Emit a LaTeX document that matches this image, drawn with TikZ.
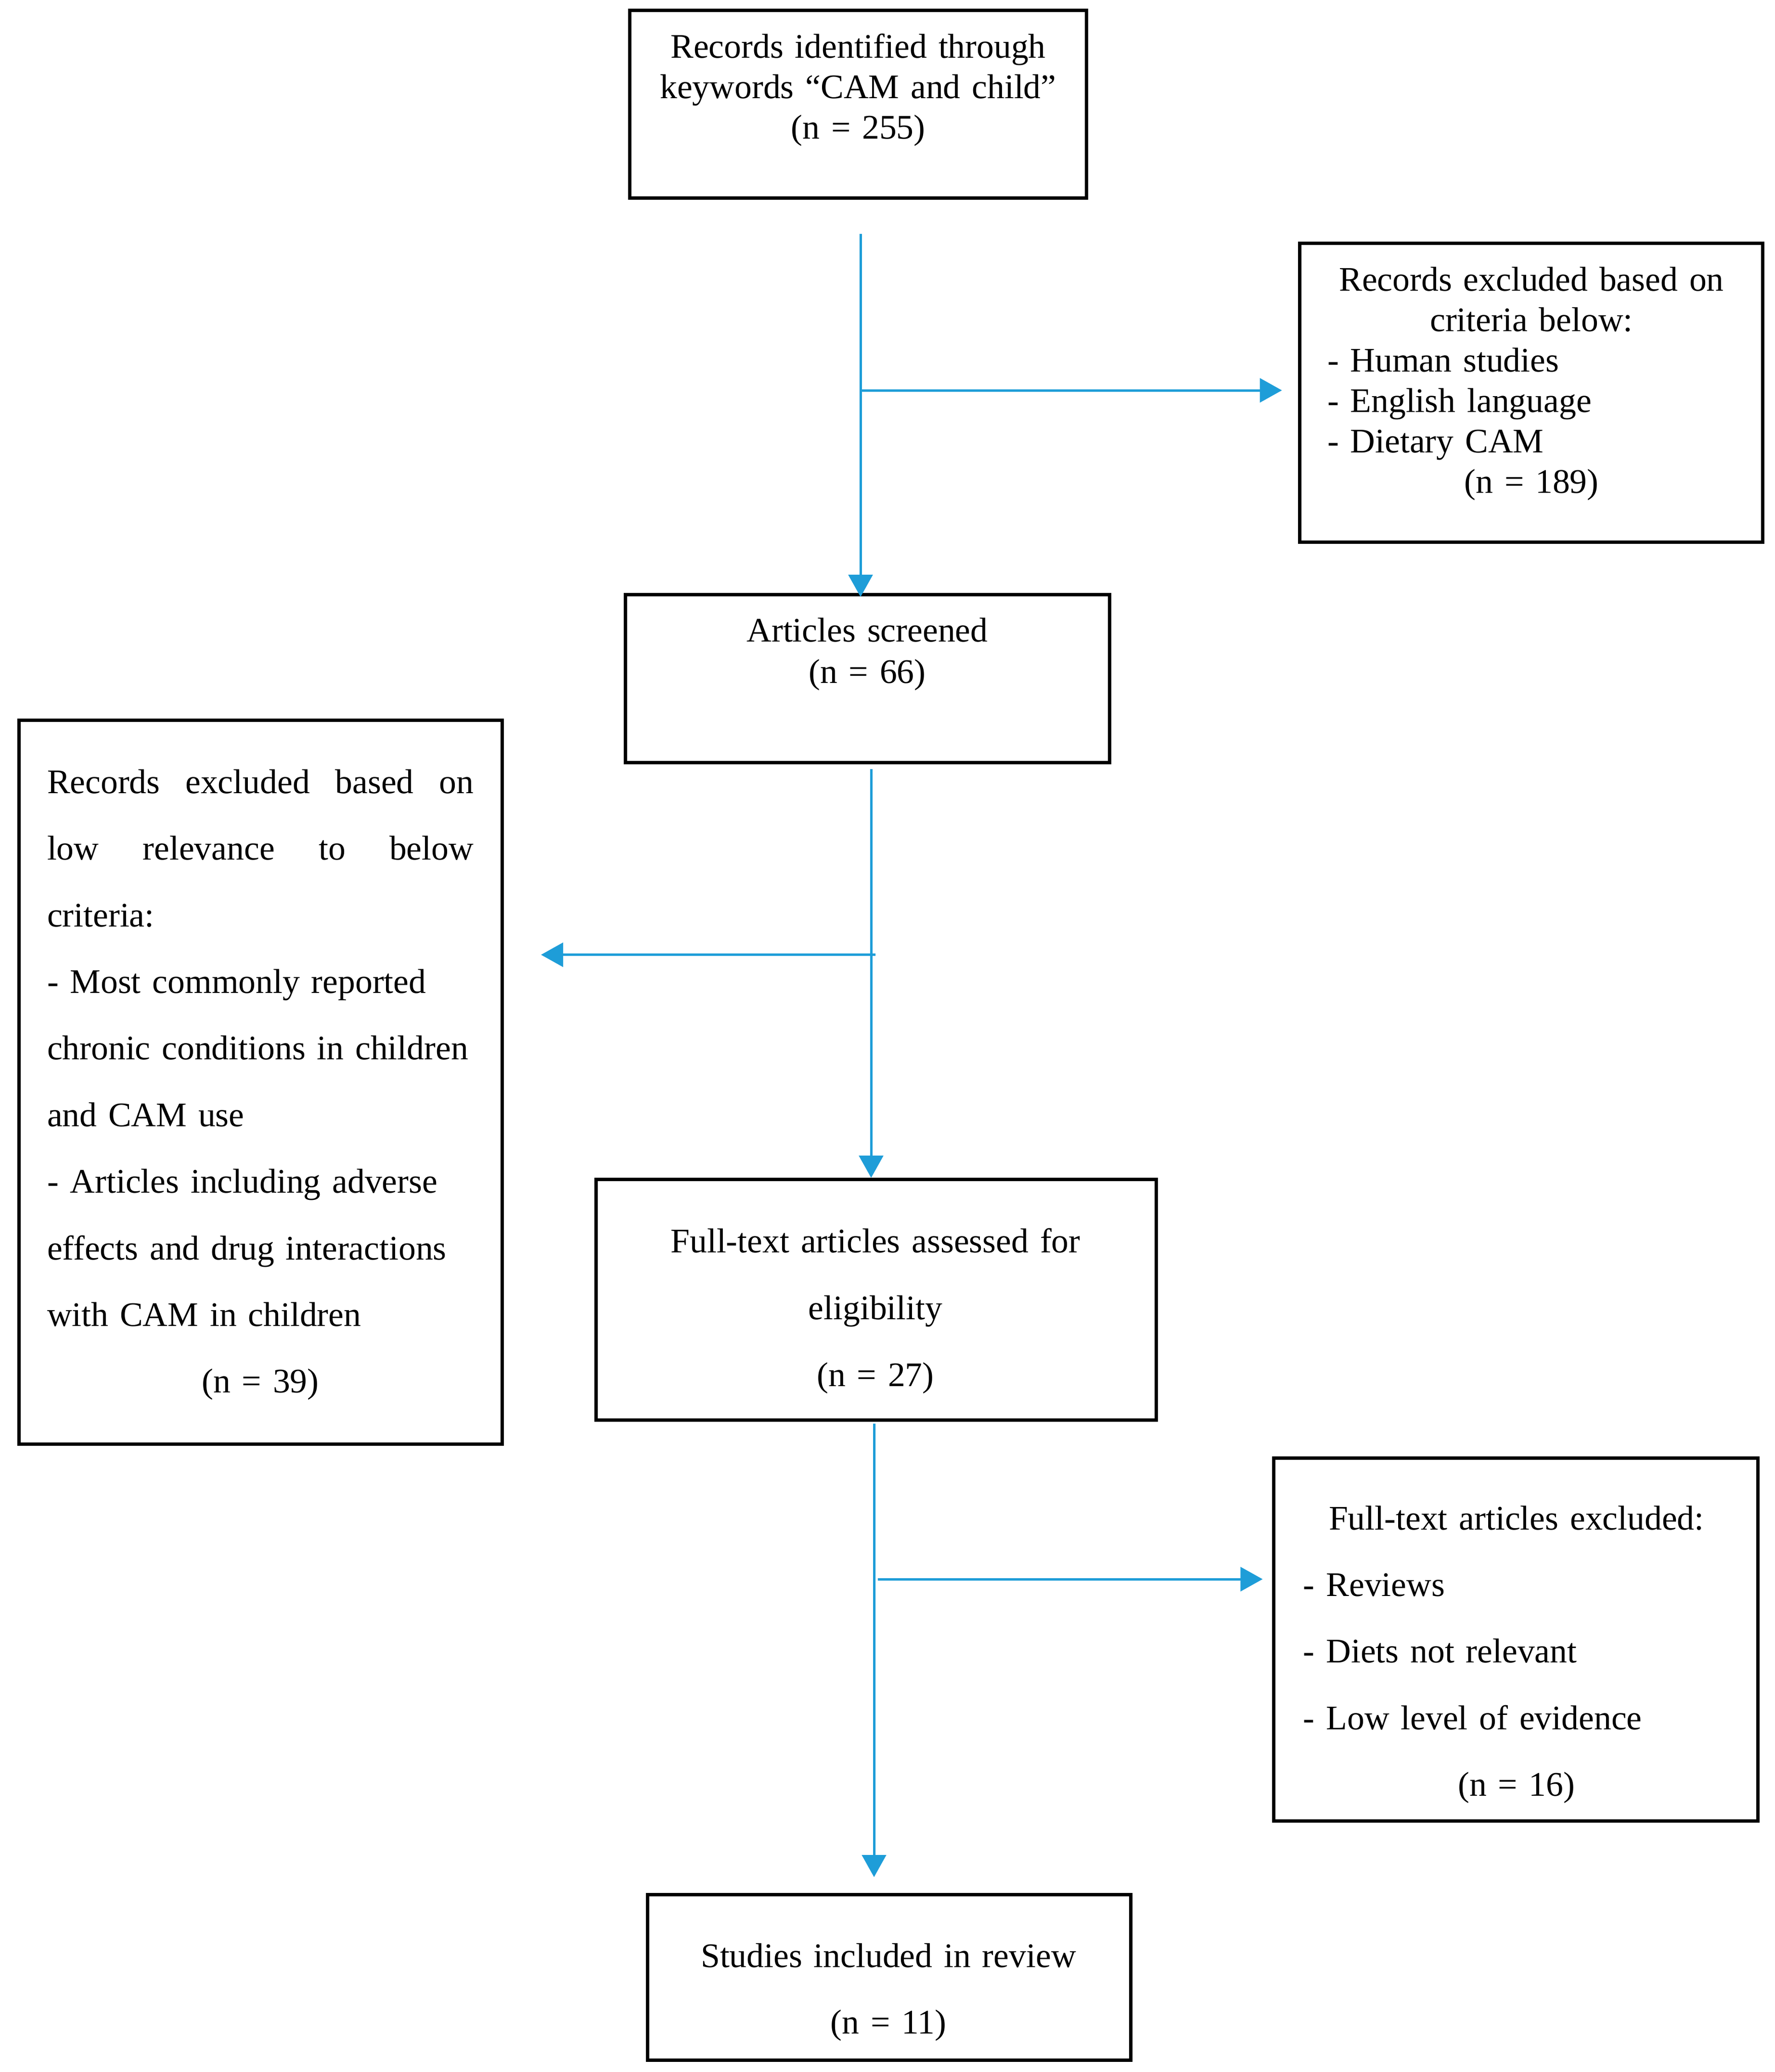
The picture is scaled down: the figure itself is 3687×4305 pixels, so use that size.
\documentclass[tikz,border=0pt]{standalone}
\usepackage{fontspec}
\setmainfont{Liberation Serif}
\usetikzlibrary{arrows.meta}
\definecolor{arrblue}{RGB}{30,157,216}
\newlength\wa \setlength\wa{212pt}
\newlength\wb \setlength\wb{221.5pt}
\newcommand\fsingle{\fontsize{17.9}{21}\selectfont}
\newcommand\fdouble{\fontsize{17.9}{34.6}\selectfont}
\tikzset{
  box/.style={draw=black, line width=1.75pt, inner sep=0pt, rectangle},
  txt/.style={inner sep=0pt, anchor=base},
  arr/.style={draw=arrblue, line width=1.25pt, -{Triangle[length=11.5pt,width=12.5pt]}},
}
\begin{document}
\begin{tikzpicture}[x=0.25pt,y=-0.25pt]
\useasboundingbox (0,0) rectangle (3687,4305);
% boxes
\node[box, minimum width=237.25pt, minimum height=97.5pt] (b1) at (1783,216.6) {};
\node[box, minimum width=240.5pt, minimum height=155.25pt] (r1) at (3181,816.2) {};
\node[box, minimum width=251.5pt, minimum height=87.25pt] (b2) at (1802,1410.2) {};
\node[box, minimum width=251pt, minimum height=376pt] (lb) at (541,2248.3) {};
\node[box, minimum width=291pt, minimum height=125pt] (b3) at (1820,2700.6) {};
\node[box, minimum width=251.5pt, minimum height=188.5pt] (r2) at (3149.5,3406.4) {};
\node[box, minimum width=251pt, minimum height=86pt] (b4) at (1847,4108.3) {};
% texts
\node[txt, text width=225pt, align=center, font=\fsingle] (t1) at (1783,120.8)
  {Records identified through\\ keywords “CAM and child”\\ (n = 255)};
\node[txt, text width=\wa, align=left, font=\fsingle] (tr1) at (3182,604)
  {\makebox[\wa]{Records excluded based on}\\
   \makebox[\wa]{criteria below:}\\
   - Human studies\\
   - English language\\
   - Dietary CAM\\
   \makebox[\wa]{(n = 189)}};
\node[txt, text width=240pt, align=center, font=\fontsize{17.9}{21.5}\selectfont] (t2) at (1802,1333)
  {Articles screened\\ (n = 66)};
\node[txt, text width=240pt, align=left, font=\fdouble] (tl) at (578,1648.3)
  {\makebox[\wb]{Records\hfill excluded\hfill based\hfill on}\\
   \makebox[\wb]{low\hfill relevance\hfill to\hfill below}\\
   criteria:\\
   - Most commonly reported\\
   chronic conditions in children\\
   and CAM use\\
   - Articles including adverse\\
   effects and drug interactions\\
   with CAM in children\\
   \makebox[\wb]{(n = 39)}};
\node[txt, text width=260pt, align=center, font=\fontsize{17.9}{34.75}\selectfont] (t3) at (1819,2602)
  {Full-text articles assessed for\\ eligibility\\ (n = 27)};
\node[txt, text width=\wb, align=left, font=\fdouble] (tr2) at (3150.8,3178)
  {\makebox[\wb]{Full-text articles excluded:}\\
   - Reviews\\
   - Diets not relevant\\
   - Low level of evidence\\
   \makebox[\wb]{(n = 16)}};
\node[txt, text width=250pt, align=center, font=\fontsize{17.9}{34.5}\selectfont] (t4) at (1846,4087)
  {Studies included in review\\ (n = 11)};
% connectors
\coordinate (a1) at (1788,486.2);
\coordinate (j1) at (1791,811);
\coordinate (a2) at (1810,1598.4);
\coordinate (j2) at (1819,1983.7);
\coordinate (a3) at (1816,2958.1);
\coordinate (j3) at (1824,3281);
\draw[arr, shorten >=-2pt] (a1) -- (a1 |- b2.north);
\draw[arr, shorten >=8.25pt] (j1) -- (j1 -| r1.west);
\draw[arr] (a2) -- (a2 |- b3.north);
\draw[arr, shorten >=19.4pt] (j2) -- (j2 -| lb.east);
\draw[arr, shorten >=8.2pt] (a3) -- (a3 |- b4.north);
\draw[arr, shorten >=4.9pt] (j3) -- (j3 -| r2.west);
\end{tikzpicture}
\end{document}
